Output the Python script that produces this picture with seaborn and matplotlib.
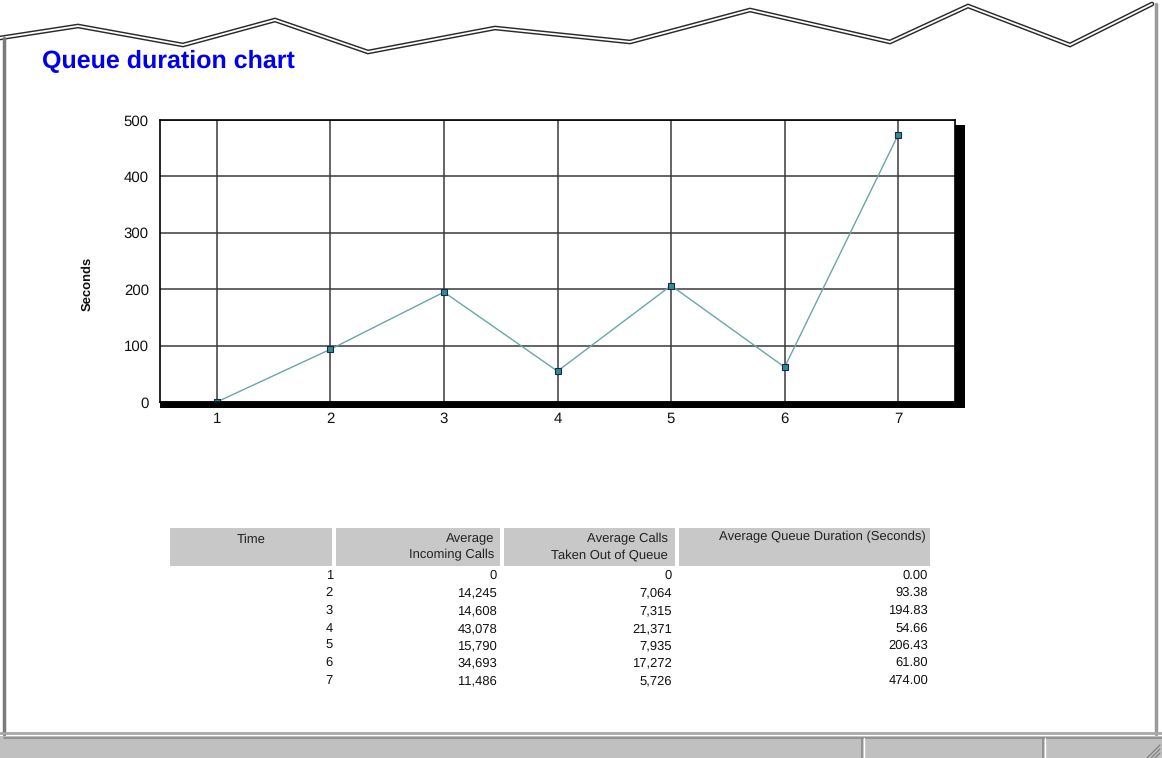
import matplotlib
matplotlib.use("Agg")
import matplotlib.pyplot as plt
from matplotlib.patches import Rectangle
import pandas as pd
import seaborn as sns

# chart / table data
times = [1, 2, 3, 4, 5, 6, 7]
incoming_calls = [0, 14245, 14608, 43078, 15790, 34693, 11486]
calls_out_of_queue = [0, 7064, 7315, 21371, 7935, 17272, 5726]
queue_duration = [0.00, 93.38, 194.83, 54.66, 206.43, 61.80, 474.00]
y_ticks = [0, 100, 200, 300, 400, 500]

title_text = "Queue duration chart"
y_label = "Seconds"
table_headers = ["Time", "Average\nIncoming Calls",
                 "Average Calls\nTaken Out of Queue",
                 "Average Queue Duration (Seconds)"]

# torn page edge at the top (pixel coords, decoration only)
edge_x = [0, 78, 183, 275, 368, 495, 630, 750, 890, 968, 1070, 1152]
edge_y = [38, 26, 45, 20, 52, 28, 42, 10, 42, 6, 45, 4]

W, H = 1162, 758

sns.set_theme(style="white")
plt.rcParams["font.family"] = ["Liberation Sans", "DejaVu Sans"]
plt.rcParams["text.hinting"] = "no_hinting"
plt.rcParams["text.hinting_factor"] = 1

fig = plt.figure(figsize=(W / 100, H / 100), dpi=100)
fig.patch.set_facecolor("white")

# background layer in pixel coordinates
bg = fig.add_axes([0, 0, 1, 1], zorder=0)
bg.set_xlim(0, W)
bg.set_ylim(H, 0)
bg.axis("off")

# page frame
bg.plot(edge_x, edge_y, color="#2a2a2a", lw=3.4, solid_joinstyle="miter")
bg.plot(edge_x, edge_y, color="white", lw=1.3, solid_joinstyle="miter")
bg.plot([4, 4], [38, 734], color="#7a7a7a", lw=2.5)
bg.plot([1156, 1156], [4, 734], color="#9a9a9a", lw=2.5)
bg.plot([0, W], [733, 733], color="#a8a8a8", lw=2.0)

# status bar
bg.add_patch(Rectangle((0, 736), W, 22, color="#c0c0c0", lw=0))
bg.plot([4, W], [738, 738], color="#8a8a8a", lw=1.2)
for sx in [862, 1043]:
    bg.plot([sx, sx], [738, 758], color="#8a8a8a", lw=1.2)
    bg.plot([sx + 2, sx + 2], [738, 758], color="white", lw=1.0)
# resize grip
for k in range(3):
    d = 5 + 4 * k
    bg.plot([1160 - d, 1160], [758, 758 - d], color="#808080", lw=0.9)

# title
bg.text(42, 62, title_text, color="#0000f0", fontsize=17.7, fontweight="bold",
        ha="left", va="center")

# chart shadow
bg.add_patch(Rectangle((955, 125), 10, 283, color="black", lw=0))
bg.add_patch(Rectangle((160, 401), 805, 7, color="black", lw=0))

# chart
ax = fig.add_axes([160 / W, (H - 402) / H, 795 / W, 282 / H], zorder=2)
ax.set_facecolor("white")
df = pd.DataFrame({"time": times, "duration": queue_duration})
sns.lineplot(data=df, x="time", y="duration", ax=ax, color="#6aa6a6", lw=1.0,
             marker="s", markersize=4.5, markerfacecolor="#2f8f8f",
             markeredgecolor="#1c2450", markeredgewidth=0.8)
ax.set_xlim(0.5, 7.5)
ax.set_ylim(0, 500)
ax.set_xticks(times)
ax.set_yticks(y_ticks)
ax.grid(True, color="#3a3a3a", lw=1.1)
ax.set_axisbelow(True)
ax.tick_params(length=0, labelsize=10.5, labelcolor="#111111")
ax.tick_params(axis="x", pad=7)
ax.tick_params(axis="y", pad=8)
ax.set_xlabel("")
ax.set_ylabel(y_label, fontsize=9, fontweight="bold", color="#111111")
ax.yaxis.set_label_coords(-0.084, 0.417)
for s in ax.spines.values():
    s.set_color("black")
    s.set_linewidth(1.2)

# table
cells = [(170, 332), (336, 500), (504, 675), (679, 930)]
for x0, x1 in cells:
    bg.add_patch(Rectangle((x0, 528), x1 - x0, 38, color="#c8c8c8", lw=0))

fs = 9
bg.text(251, 533, table_headers[0], fontsize=fs, ha="center", va="top", color="#222222")
bg.text(494, 533, table_headers[1], fontsize=fs, ha="right", va="top",
        linespacing=1.4, multialignment="right", color="#222222")
bg.text(668, 533, table_headers[2], fontsize=fs, ha="right", va="top",
        linespacing=1.4, multialignment="right", color="#222222")
bg.text(926, 531, table_headers[3], fontsize=fs, ha="right", va="top", color="#222222")

for i in range(len(times)):
    y = round(579 + i * 17.5)
    bg.text(333, y, f"{times[i]}", fontsize=fs, ha="right", va="baseline", color="#111111")
    bg.text(497, y, f"{incoming_calls[i]:,}", fontsize=fs, ha="right", va="baseline", color="#111111")
    bg.text(672, y, f"{calls_out_of_queue[i]:,}", fontsize=fs, ha="right", va="baseline", color="#111111")
    bg.text(928, y, f"{queue_duration[i]:.2f}", fontsize=fs, ha="right", va="baseline", color="#111111")

fig.savefig("out.png", dpi=100, facecolor="white")
